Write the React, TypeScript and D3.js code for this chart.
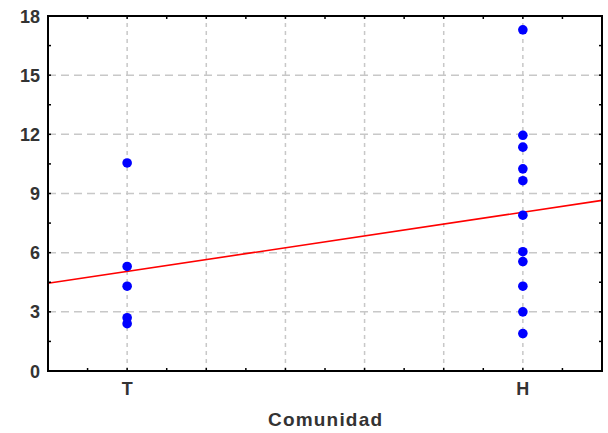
import React, { useEffect, useRef } from "react";
import * as d3 from "d3";

// categories and their codes on the x axis
const categories = ["T", "H"];
const categoryCodes = [1, 6];

// observed values per category
const valuesT = [10.55, 5.3, 4.3, 2.7, 2.4];
const valuesH = [17.3, 11.95, 11.35, 10.25, 9.65, 7.9, 6.05, 5.55, 4.3, 3.0, 1.9];

// fitted line, value at both ends of the x domain
const fitX = [0, 7];
const fitY = [4.45, 8.65];

const yTicks = [0, 3, 6, 9, 12, 15, 18];
const xGrid = [1, 2, 3, 4, 5, 6];
const axisTitle = "Comunidad";

export default function App() {
  const ref = useRef<SVGSVGElement>(null);

  useEffect(() => {
    const W = 608, H = 433;
    const margin = { top: 16, right: 6, bottom: 62, left: 48 };
    const svg = d3.select(ref.current);
    svg.selectAll("*").remove();

    const x = d3.scaleLinear().domain([0, 7]).range([margin.left, W - margin.right]);
    const y = d3.scaleLinear().domain([0, 18]).range([H - margin.bottom, margin.top]);
    const [x0, x1] = x.range();
    const [y0, y1] = y.range();

    // grid
    const grid = svg.append("g");
    grid.selectAll("line.h")
      .data(yTicks.filter(d => d > 0 && d < 18))
      .enter().append("line")
      .attr("x1", x0).attr("x2", x1)
      .attr("y1", d => y(d)).attr("y2", d => y(d))
      .attr("stroke", "#c8c8c8").attr("stroke-width", 1.5)
      .attr("stroke-dasharray", "8,5");
    grid.selectAll("line.v")
      .data(xGrid)
      .enter().append("line")
      .attr("x1", d => x(d)).attr("x2", d => x(d))
      .attr("y1", y0).attr("y2", y1)
      .attr("stroke", "#c8c8c8").attr("stroke-width", 1.5)
      .attr("stroke-dasharray", "4,4");

    // fitted line
    const line = d3.line<number>().x((d, i) => x(fitX[i])).y(d => y(d));
    svg.append("path")
      .datum(fitY)
      .attr("d", line)
      .attr("fill", "none")
      .attr("stroke", "#ff0000")
      .attr("stroke-width", 1.6);

    // points
    const pts = [
      ...valuesT.map(v => ({ c: categoryCodes[0], v })),
      ...valuesH.map(v => ({ c: categoryCodes[1], v })),
    ];
    svg.append("g").selectAll("circle")
      .data(pts)
      .enter().append("circle")
      .attr("cx", d => x(d.c))
      .attr("cy", d => y(d.v))
      .attr("r", 4.8)
      .attr("fill", "#0000ff");

    // inner ticks
    const ticks = svg.append("g").attr("stroke", "#000").attr("stroke-width", 1.5);
    const xMinor = d3.range(0.5, 7, 0.5);
    xMinor.forEach(t => {
      ticks.append("line").attr("x1", x(t)).attr("x2", x(t)).attr("y1", y0).attr("y2", y0 - 3);
      ticks.append("line").attr("x1", x(t)).attr("x2", x(t)).attr("y1", y1).attr("y2", y1 + 3);
    });
    const yMinor = d3.range(1.5, 18, 1.5);
    yMinor.forEach(t => {
      ticks.append("line").attr("x1", x0).attr("x2", x0 + 3).attr("y1", y(t)).attr("y2", y(t));
      ticks.append("line").attr("x1", x1).attr("x2", x1 - 3).attr("y1", y(t)).attr("y2", y(t));
    });

    // frame
    svg.append("rect")
      .attr("x", x0).attr("y", y1)
      .attr("width", x1 - x0).attr("height", y0 - y1)
      .attr("fill", "none").attr("stroke", "#000").attr("stroke-width", 2);

    // y labels
    svg.append("g").selectAll("text")
      .data(yTicks)
      .enter().append("text")
      .attr("x", 40)
      .attr("y", d => y(d) + 6.5)
      .attr("text-anchor", "end")
      .attr("font-family", "Liberation Sans, Arial, sans-serif")
      .attr("font-weight", "bold")
      .attr("font-size", 18)
      .attr("fill", "#333")
      .text(d => d);

    // x labels
    svg.append("g").selectAll("text")
      .data(categories)
      .enter().append("text")
      .attr("x", (d, i) => x(categoryCodes[i]))
      .attr("y", 395)
      .attr("text-anchor", "middle")
      .attr("font-family", "Liberation Sans, Arial, sans-serif")
      .attr("font-weight", "bold")
      .attr("font-size", 18)
      .attr("fill", "#333")
      .text(d => d);

    svg.append("text")
      .attr("x", (x0 + x1) / 2)
      .attr("y", 426)
      .attr("text-anchor", "middle")
      .attr("font-family", "Liberation Sans, Arial, sans-serif")
      .attr("font-weight", "bold")
      .attr("font-size", 19)
      .attr("textLength", 114)
      .attr("fill", "#333")
      .text(axisTitle);
  }, []);

  return (
    <svg
      ref={ref}
      width={608}
      height={433}
      style={{ position: "absolute", left: 0, top: 0, background: "#fff" }}
    />
  );
}
